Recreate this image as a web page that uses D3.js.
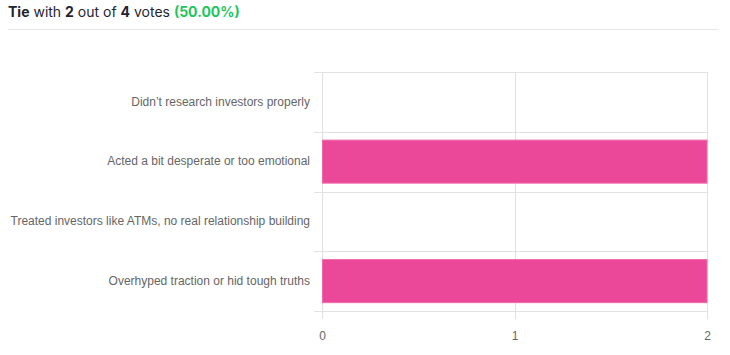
<!DOCTYPE html>
<html><head><meta charset="utf-8">
<script src="https://cdn.jsdelivr.net/npm/d3@7"></script>
<style>
html,body{margin:0;padding:0;background:#fff;}
svg{display:block;}
</style></head>
<body>
<svg id="chart" width="730" height="355"></svg>
<script>
const categories = [
  "Didn\u2019t research investors properly",
  "Acted a bit desperate or too emotional",
  "Treated investors like ATMs, no real relationship building",
  "Overhyped traction or hid tough truths"
];
const votes = [0, 2, 0, 2];
const xTicks = [0, 1, 2];
const totalVotes = 4;
const titleParts = [
  {t: "Tie", b: true}, {t: " with ", b: false}, {t: "2", b: true},
  {t: " out of ", b: false}, {t: "4", b: true}, {t: " votes ", b: false},
  {t: "(50.00%)", b: true, g: true}
];

const svg = d3.select("#chart");
const m = {left: 322, right: 707, top: 72, bottom: 311};

// title
const title = svg.append("text").attr("x", 8).attr("y", 17)
  .attr("font-family", "Inter, 'Helvetica Neue', Arial, sans-serif")
  .attr("font-size", 14).attr("fill", "#1f2430");
titleParts.forEach(p => {
  title.append("tspan").text(p.t)
    .attr("font-weight", p.b ? 700 : 400)
    .attr("fill", p.g ? "#22c55e" : null)
    .attr("xml:space", "preserve");
});
title.attr("xml:space", "preserve");
svg.append("line").attr("x1", 8).attr("x2", 718).attr("y1", 29.5).attr("y2", 29.5)
  .attr("stroke", "#e5e7eb").attr("stroke-width", 1);

const x = d3.scaleLinear().domain([0, d3.max(xTicks)]).range([m.left, m.right]);
const y = d3.scaleBand().domain(categories).range([m.top, m.bottom]).paddingInner(0).paddingOuter(0);
const gridColor = "#e1e1e1";

// vertical grid lines (with ticks below axis)
svg.append("g").selectAll("line").data(xTicks).join("line")
  .attr("x1", d => Math.round(x(d)) + 0.5).attr("x2", d => Math.round(x(d)) + 0.5)
  .attr("y1", m.top).attr("y2", m.bottom + 8)
  .attr("stroke", gridColor).attr("stroke-width", 1);

// horizontal grid lines at band edges (with ticks left of axis)
const edges = categories.map(c => y(c)).concat([m.bottom]);
svg.append("g").selectAll("line").data(edges).join("line")
  .attr("x1", m.left - 8).attr("x2", m.right)
  .attr("y1", d => Math.round(d) + 0.5).attr("y2", d => Math.round(d) + 0.5)
  .attr("stroke", gridColor).attr("stroke-width", 1);

// bars
const bw = y.bandwidth() * 0.72;
svg.append("g").selectAll("rect").data(categories).join("rect")
  .attr("x", x(0) + 0.5)
  .attr("y", c => y(c) + (y.bandwidth() - bw) / 2)
  .attr("width", (c, i) => Math.max(0, x(votes[i]) - x(0) - 0.5))
  .attr("height", bw)
  .attr("fill", "#ec4899")
  .attr("stroke", "#f06aa8").attr("stroke-width", (c, i) => votes[i] > 0 ? 1 : 0);

// category labels
const yAxis = d3.axisLeft(y).tickSize(0).tickPadding(12);
const gy = svg.append("g").attr("transform", `translate(${m.left},0)`).call(yAxis);
gy.select(".domain").remove();
gy.selectAll("text").attr("font-family", "'Liberation Sans', Arial, Helvetica, sans-serif")
  .attr("font-size", 12).attr("fill", "#666");

// x tick labels
const xAxis = d3.axisBottom(x).tickValues(xTicks).tickFormat(d3.format("d")).tickSize(0).tickPadding(20);
const gx = svg.append("g").attr("transform", `translate(0,${m.bottom})`).call(xAxis);
gx.select(".domain").remove();
gx.selectAll("text").attr("font-family", "'Liberation Sans', Arial, Helvetica, sans-serif")
  .attr("font-size", 12).attr("fill", "#666");
</script>
</body></html>
